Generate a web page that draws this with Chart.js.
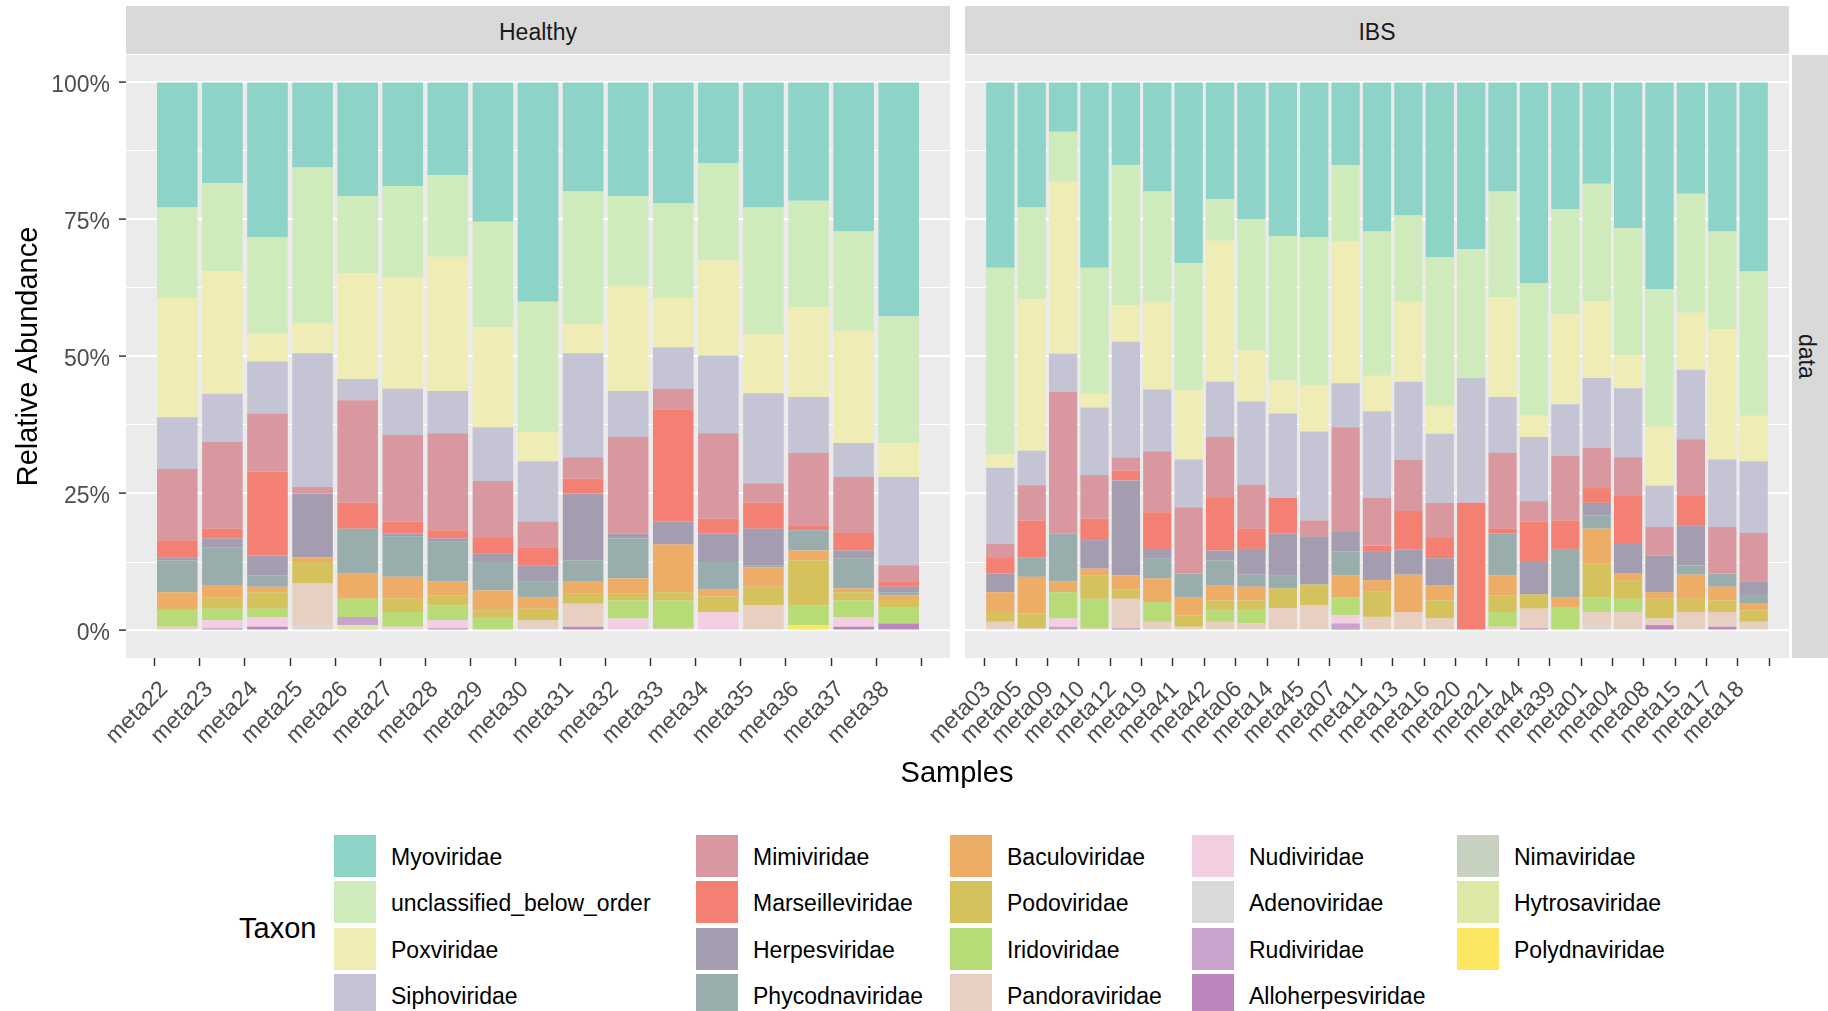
<!DOCTYPE html>
<html>
<head>
<meta charset="utf-8">
<script src="https://cdn.jsdelivr.net/npm/chart.js@4.4.1/dist/chart.umd.min.js"></script>
<style>
  body { margin: 0; width: 1828px; height: 1011px; overflow: hidden; background: #fff;
         font-family: "Liberation Sans", Arial, sans-serif; position: relative; }
  canvas { position: absolute; }
  .strip { position: absolute; background: #D9D9D9; color: #1A1A1A; font-size: 23px;
           display: flex; align-items: center; justify-content: center; box-sizing: border-box; }
  .rot { writing-mode: vertical-rl; margin-right: 8px; }
  .key { position: absolute; width: 42px; height: 42px; }
  .lab { position: absolute; font-size: 23px; color: #000; line-height: 42px; white-space: nowrap; }
</style>
</head>
<body>

<canvas id="healthy" width="980" height="800" style="left:0;top:0"></canvas>
<canvas id="ibs" width="923" height="800" style="left:905px;top:0"></canvas>

<div class="strip" style="left:126px;top:6px;width:824px;height:48px;padding-top:4px">Healthy</div>
<div class="strip" style="left:965px;top:6px;width:824px;height:48px;padding-top:4px">IBS</div>
<div class="strip" style="left:1792px;top:55px;width:36px;height:603px"><span class="rot">data</span></div>

<div style="position:absolute;left:0;width:1914px;top:756px;text-align:center;font-size:29px;color:#000">Samples</div>
<div style="position:absolute;left:239px;top:912px;font-size:29px;color:#000">Taxon</div>
<div id="legenda"></div>

<script>
// amostras
let amostrasHealthy = ['meta22','meta23','meta24','meta25','meta26','meta27','meta28','meta29','meta30',
  'meta31','meta32','meta33','meta34','meta35','meta36','meta37','meta38']
let amostrasIBS = ['meta03','meta05','meta09','meta10','meta12','meta19','meta41','meta42','meta06',
  'meta14','meta45','meta07','meta11','meta13','meta16','meta20','meta21','meta44','meta39','meta01',
  'meta04','meta08','meta15','meta17','meta18']

let yTicks = [0, 12.5, 25, 37.5, 50, 62.5, 75, 87.5, 100]
let yTickLabels = ['0%', '', '25%', '', '50%', '', '75%', '', '100%']

// ordem da legenda (topo da barra -> base)
let taxa = ['Myoviridae','unclassified_below_order','Poxviridae','Siphoviridae','Mimiviridae',
  'Marseilleviridae','Herpesviridae','Phycodnaviridae','Baculoviridae','Podoviridae','Iridoviridae',
  'Pandoraviridae','Nudiviridae','Adenoviridae','Rudiviridae','Alloherpesviridae','Nimaviridae',
  'Hytrosaviridae','Polydnaviridae']

let cores = ['#8DD3C7','#D0EBBB','#EFECB5','#C5C4D4','#D9979F','#F38072','#A49DB0','#99ADAD',
  '#EEAD67','#D5C25C','#B6DB77','#E7D0C2','#F1CEE0','#D9D9D9','#C8A3CC','#BC85BE','#C7D1C0',
  '#DCE8A6','#FDE760']

// valores (%): 17 Healthy seguidos de 25 IBS
let myoviridae = [22.8,18.4,28.3,15.5,20.7,18.9,16.9,25.4,40.0,19.9,20.7,22.1,14.8,22.8,21.6,27.2,42.7,
  33.8,22.8,9.0,33.8,15.1,19.9,33.0,21.3,25.0,28.0,28.3,15.1,27.2,24.3,31.9,30.4,19.9,36.7,23.1,18.5,26.6,37.7,20.3,27.2,34.5]
let unclassified = [16.5,16.0,17.5,28.5,14.1,16.7,14.9,19.2,23.8,24.2,16.4,17.2,17.7,23.1,19.4,18.1,23.1,
  34.1,16.7,9.1,23.0,25.5,20.1,23.2,7.6,23.9,26.4,27.0,13.9,26.3,15.7,27.1,23.5,19.3,24.1,19.2,21.4,23.2,25.1,21.7,17.8,26.3]
let poxviridae = [21.8,22.4,5.1,5.4,19.3,20.3,24.5,18.3,5.3,5.3,19.2,9.0,17.3,10.8,16.4,20.5,6.2,
  2.4,27.7,31.4,2.5,6.7,16.0,12.6,25.7,9.3,6.0,8.4,25.9,6.5,14.6,5.1,0,18.2,3.9,16.4,14.0,6.0,10.8,10.4,23.8,8.3]
let siphoviridae = [9.4,8.8,9.5,24.4,3.9,8.4,7.7,9.8,11.0,19.0,8.4,7.6,14.2,16.4,10.2,6.2,16.1,
  13.9,6.3,6.9,12.3,21.1,11.3,8.7,10.1,15.2,15.4,16.2,8.0,15.8,14.2,12.6,22.8,10.2,11.7,9.4,12.8,12.6,7.5,12.7,12.3,13.1]
let mimiviridae = [13.0,15.8,10.6,1.2,18.7,15.8,17.7,10.4,4.7,3.9,17.6,3.8,15.6,3.6,13.2,10.2,2.9,
  2.4,6.4,25.9,8.0,2.4,11.1,12.1,11.1,8.0,0,3.0,19.1,8.7,9.4,6.4,0,13.8,3.7,11.8,7.3,6.9,5.2,10.2,8.5,8.8]
let marseilleviridae = [3.1,1.8,15.3,0,4.7,2.2,1.5,2.9,3.3,2.7,0,20.4,2.7,4.7,0.9,3.2,1.0,
  3.0,6.7,0,3.9,1.8,6.7,0,9.6,3.7,6.5,0,0,1.0,7.0,3.7,23.3,0.9,7.4,5.2,2.7,8.9,0,5.5,0,0]
let herpesviridae = [0.6,1.6,3.6,11.6,0,0.5,0.6,1.5,3.0,12.2,0.9,4.2,5.2,6.7,0,1.4,1.0,
  3.4,0,0,5.2,17.3,1.8,0,1.8,4.7,7.7,8.7,3.6,5.3,4.6,4.9,0,0,5.9,0,2.3,5.4,6.7,7.3,0,2.5]
let phycodnaviridae = [5.8,6.9,2.1,0,8.2,7.4,7.2,5.2,2.8,3.9,7.3,0,5.0,0.4,3.7,5.5,0.6,
  0,3.6,8.7,0,0,3.6,4.3,4.5,2.2,2.3,0,4.3,0,0,0,0,7.6,0,8.8,2.4,0,0,1.7,2.4,1.6]
let baculoviridae = [2.7,2.2,1.0,0.9,4.6,4.0,2.6,3.6,2.1,2.2,2.8,8.7,1.3,3.5,1.8,0.7,0.8,
  3.6,6.7,2.0,1.2,2.6,4.3,3.3,2.8,2.5,0,0,4.0,2.0,6.8,2.8,0,3.7,0,1.8,6.4,1.2,1.2,4.4,2.5,1.2]
let podoviridae = [0.7,2.1,3.0,3.9,0,2.4,1.8,1.5,2.1,1.8,1.2,1.5,2.8,3.4,8.2,1.5,1.3,
  1.8,2.7,0,4.3,1.7,0,2.1,1.8,1.8,3.6,3.8,0,4.7,0,3.3,0,3.0,2.6,0,6.1,3.4,3.6,2.4,2.1,2.1]
let iridoviridae = [2.9,2.1,1.5,0,3.3,2.7,2.7,2.2,0,0,3.3,5.1,0,0,3.6,3.0,3.0,
  0,0,4.8,5.4,0,3.6,0,2.1,2.4,0,0,3.3,0,0,0,0,2.7,0,4.3,2.7,2.4,0,0,0,0]
let pandoraviridae = [0.4,0,0,7.6,0,0,0,0,1.5,4.2,0,0.4,0,4.6,0,0,0,
  1.2,0.4,0,0.4,5.4,1.6,0.7,1.6,1.3,4.1,4.6,0,2.5,3.4,2.2,0,0.7,3.6,0,2.4,3.4,1.2,3.4,2.7,1.6]
let nudiviridae = [0.3,1.5,1.8,0,0,0.7,1.5,0,0,0,2.2,0,3.4,0,0,1.8,0,
  0,0,1.5,0,0,0,0,0,0,0,0,1.5,0,0,0,0,0,0,0,0,0,0,0,0,0]
let adenoviridae = [0,0,0,1.0,0,0,0,0,0.4,0,0,0,0,0,0,0,0,
  0.4,0,0,0,0,0,0,0,0,0,0,0,0,0,0,0,0,0,0,1.0,0,0,0,0,0]
let rudiviridae = [0,0,0,0,1.5,0,0,0,0,0,0,0,0,0,0,0,0,
  0,0,0.7,0,0,0,0,0,0,0,0,0.9,0,0,0,0,0,0,0,0,0,0,0,0,0]
let alloherpesviridae = [0,0.4,0.7,0,0,0,0.4,0,0,0.7,0,0,0,0,0,0.7,1.3,
  0,0,0,0,0.4,0,0,0,0,0,0,0.4,0,0,0,0,0,0.4,0,0,0,1.0,0,0.7,0]
let nimaviridae = [0,0,0,0,0,0,0,0,0,0,0,0,0,0,0,0,0,
  0,0,0,0,0,0,0,0,0,0,0,0,0,0,0,0,0,0,0,0,0,0,0,0,0]
let hytrosaviridae = [0,0,0,0,1.0,0,0,0,0,0,0,0,0,0,0,0,0,
  0,0,0,0,0,0,0,0,0,0,0,0,0,0,0,0,0,0,0,0,0,0,0,0,0]
let polydnaviridae = [0,0,0,0,0,0,0,0,0,0,0,0,0,0,1.0,0,0,
  0,0,0,0,0,0,0,0,0,0,0,0,0,0,0,0,0,0,0,0,0,0,0,0,0]

let valores = [myoviridae, unclassified, poxviridae, siphoviridae, mimiviridae, marseilleviridae,
  herpesviridae, phycodnaviridae, baculoviridae, podoviridae, iridoviridae, pandoraviridae,
  nudiviridae, adenoviridae, rudiviridae, alloherpesviridae, nimaviridae, hytrosaviridae, polydnaviridae]

Chart.defaults.font.family = '"Liberation Sans", Arial, sans-serif'

// fundo cinza do painel
const fundoPainel = {
  id: 'fundoPainel',
  beforeDraw(chart) {
    const a = chart.chartArea
    chart.ctx.save()
    chart.ctx.fillStyle = '#EBEBEB'
    chart.ctx.fillRect(a.left, a.top, a.right - a.left, a.bottom - a.top)
    chart.ctx.restore()
  }
}

function montarDatasets(inicio, fim) {
  let ds = []
  // ggplot empilha o primeiro nível no topo, então a base vem primeiro
  for (let t = taxa.length - 1; t >= 0; t--) {
    ds.push({
      label: taxa[t],
      data: valores[t].slice(inicio, fim).map((v, i) => ({ x: i + 1, y: v })),
      backgroundColor: cores[t],
      borderWidth: 0,
      barPercentage: 0.9,
      categoryPercentage: 1.0
    })
  }
  return ds
}

function plotarPainel(canvasId, amostras, inicio, comEixoY, padding) {
  let n = amostras.length
  return new Chart(document.getElementById(canvasId), {
    type: 'bar',
    data: { datasets: montarDatasets(inicio, inicio + n) },
    plugins: [fundoPainel],
    options: {
      responsive: false,
      animation: false,
      layout: { padding: padding },
      plugins: { legend: { display: false }, tooltip: { enabled: false } },
      scales: {
        x: {
          type: 'linear', stacked: true, bounds: 'data',
          min: 0.4, max: n + 0.6,
          afterBuildTicks: s => { s.ticks = amostras.map((a, i) => ({ value: i + 1 })) },
          afterFit: s => { s.height = 120 },
          ticks: {
            autoSkip: false, minRotation: 45, maxRotation: 45, padding: 10, labelOffset: -13,
            color: '#4D4D4D', font: { size: 23 },
            callback: v => amostras[v - 1]
          },
          grid: { drawOnChartArea: false, drawTicks: true, tickLength: 8, tickColor: '#333333', tickWidth: 1.5 },
          border: { display: false }
        },
        y: {
          stacked: true, bounds: 'data', min: -5, max: 105,
          afterBuildTicks: s => { s.ticks = yTicks.map(v => ({ value: v })) },
          afterFit: s => { s.width = comEixoY ? 126 : 0 },
          ticks: {
            display: comEixoY, autoSkip: false, padding: 9, labelOffset: 3,
            color: '#4D4D4D', font: { size: 23 },
            callback: (v, i) => yTickLabels[i]
          },
          grid: {
            color: '#FFFFFF',
            lineWidth: c => (c.index % 2 === 0 ? 2.2 : 1.1),
            drawTicks: comEixoY,
            tickLength: 7,
            tickWidth: 1.5,
            tickColor: c => (c.index % 2 === 0 ? '#333333' : 'rgba(0,0,0,0)')
          },
          border: { display: false },
          title: {
            display: comEixoY, text: 'Relative Abundance', color: '#000',
            font: { size: 29 }, padding: { top: 12, bottom: 0 }
          }
        }
      }
    }
  })
}

plotarPainel('healthy', amostrasHealthy, 0, true, { top: 55, bottom: 22, left: 0, right: 30 })
plotarPainel('ibs', amostrasIBS, amostrasHealthy.length, false, { top: 55, bottom: 22, left: 60, right: 39 })

// legenda (preenchida por coluna, 4 linhas)
let colunasChave = [334, 696, 950, 1192, 1457]
let legenda = document.getElementById('legenda')
for (let i = 0; i < taxa.length; i++) {
  let col = Math.floor(i / 4)
  let lin = i % 4
  let topo = 835 + lin * 46.3
  legenda.innerHTML +=
    `<div class="key" style="left:${colunasChave[col]}px;top:${topo}px;background:${cores[i]}"></div>
     <div class="lab" style="left:${colunasChave[col] + 57}px;top:${topo + 1}px">${taxa[i]}</div>`
}
</script>
</body>
</html>
